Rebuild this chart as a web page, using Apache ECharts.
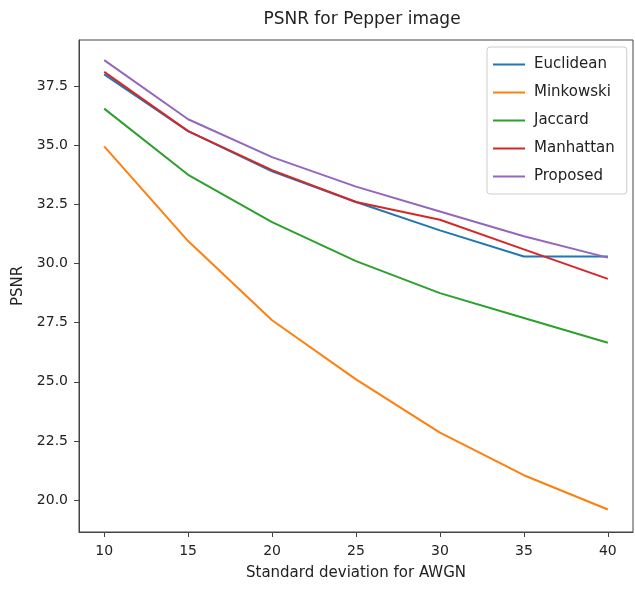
<!DOCTYPE html>
<html>
<head>
<meta charset="utf-8">
<script src="https://cdn.jsdelivr.net/npm/echarts@6/dist/echarts.min.js"></script>
<style>
  html, body { margin: 0; padding: 0; background: #fff; }
  #chart { width: 635px; height: 590px; }
</style>
</head>
<body>
<div id="chart"></div>
<script>
// noise levels (x axis)
var sigma = [10, 15, 20, 25, 30, 35, 40];

// PSNR values
var euclidean = [38.0, 35.6, 33.9, 32.6, 31.4, 30.3, 30.3];
var minkowski = [34.95, 30.95, 27.6, 25.1, 22.85, 21.05, 19.6];
var jaccard   = [36.55, 33.75, 31.75, 30.1, 28.75, 27.7, 26.65];
var manhattan = [38.1, 35.6, 33.95, 32.6, 31.85, 30.6, 29.35];
var proposed  = [38.6, 36.1, 34.5, 33.25, 32.2, 31.15, 30.25];

var xTicks = [10, 15, 20, 25, 30, 35, 40];
var yTicks = [20.0, 22.5, 25.0, 27.5, 30.0, 32.5, 35.0, 37.5];

var names = ['Euclidean', 'Minkowski', 'Jaccard', 'Manhattan', 'Proposed'];
var colors = ['#1f77b4', '#ff7f0e', '#2ca02c', '#d62728', '#9467bd'];
var values = [euclidean, minkowski, jaccard, manhattan, proposed];

function pairs(ys) {
    return sigma.map(function (x, i) { return [x, ys[i]]; });
}

var chart = echarts.init(document.getElementById('chart'));

var series = names.map(function (n, i) {
    return {
        name: n,
        type: 'line',
        data: pairs(values[i]),
        showSymbol: false,
        lineStyle: { width: 2, color: colors[i] },
        itemStyle: { color: colors[i] },
        z: 2 + i
    };
});

var font = 'DejaVu Sans';

var option = {
    animation: false,
    backgroundColor: '#fff',
    title: {
        text: 'PSNR for Pepper image',
        left: 357,
        textAlign: 'center',
        top: 6,
        textStyle: { fontFamily: font, fontSize: 17, fontWeight: 'normal', color: '#222' }
    },
    grid: {
        left: 79, right: 2, top: 40, bottom: 58,
        show: true, borderColor: '#444', borderWidth: 1
    },
    legend: {
        orient: 'vertical',
        left: 487, top: 47,
        padding: [10, 12, 10, 6],
        itemGap: 13,
        itemWidth: 32,
        itemHeight: 2,
        icon: 'rect',
        borderColor: '#ccc', borderWidth: 1, borderRadius: 3,
        backgroundColor: 'rgba(255,255,255,0.85)',
        textStyle: { fontFamily: font, fontSize: 15, color: '#222', padding: [0, 0, 0, 4] },
        data: names
    },
    xAxis: {
        type: 'value',
        min: 8.5, max: 41.5,
        name: 'Standard deviation for AWGN',
        nameLocation: 'middle',
        nameGap: 34,
        nameTextStyle: { fontFamily: font, fontSize: 15, color: '#222' },
        splitLine: { show: false },
        axisLine: { show: true, onZero: false, lineStyle: { color: '#444' } },
        axisTick: { show: true, length: 5, customValues: xTicks, lineStyle: { color: '#444' } },
        axisLabel: { customValues: xTicks, fontFamily: font, fontSize: 14, color: '#222', margin: 12 }
    },
    yAxis: {
        type: 'value',
        min: 18.65, max: 39.45,
        name: 'PSNR',
        nameLocation: 'middle',
        nameGap: 52,
        nameTextStyle: { fontFamily: font, fontSize: 15, color: '#222' },
        splitLine: { show: false },
        axisLine: { show: true, onZero: false, lineStyle: { color: '#444' } },
        axisTick: { show: true, length: 5, customValues: yTicks, lineStyle: { color: '#444' } },
        axisLabel: {
            customValues: yTicks, fontFamily: font, fontSize: 14, color: '#222', margin: 11,
            formatter: function (v) { return v.toFixed(1); }
        }
    },
    series: series
};

option && chart.setOption(option);
</script>
</body>
</html>
